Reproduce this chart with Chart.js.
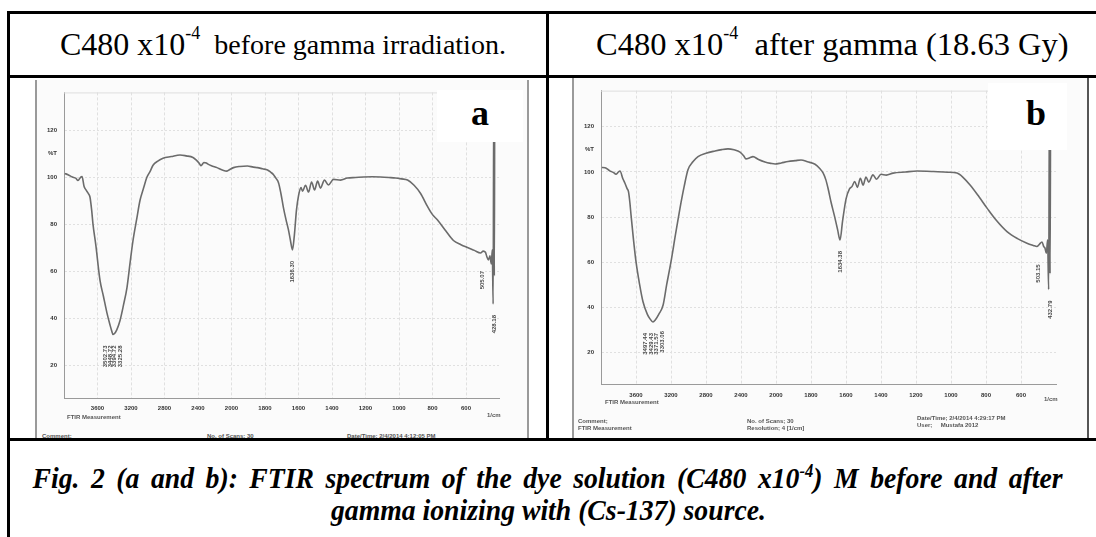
<!DOCTYPE html>
<html>
<head>
<meta charset="utf-8">
<script src="https://cdn.jsdelivr.net/npm/chart.js@4.4.0/dist/chart.umd.min.js"></script>
<style>
body{margin:0;width:1096px;height:537px;overflow:hidden;background:#fff;position:relative;font-family:"Liberation Serif","Times New Roman",serif;color:#000;}
.ln{position:absolute;background:#000;}
.hd{position:absolute;top:14px;height:61px;display:flex;align-items:center;white-space:nowrap;}
.hd sup{font-size:18px;vertical-align:0;position:relative;top:-11px;}
.frame{position:absolute;background:#fbfbfb;border-left:2px solid #9a9a9a;border-right:2px solid #9a9a9a;box-sizing:border-box;overflow:hidden;}
.cv{position:absolute;}
.box{position:absolute;background:#fff;}
.lab{position:absolute;font-weight:bold;font-size:36px;line-height:36px;}
.sm{position:absolute;font-family:"Liberation Sans",Arial,sans-serif;font-size:6px;line-height:7px;font-weight:bold;color:#555;white-space:nowrap;}
.cap{position:absolute;left:-1000px;width:3096px;text-align:center;font-weight:bold;font-style:italic;font-size:30px;line-height:32px;white-space:nowrap;}
.capin{display:inline-block;transform-origin:center;}
.cap sup{font-size:18px;vertical-align:0;position:relative;top:-11px;}
</style>
</head>
<body>

<!-- table lines -->
<div class="ln" style="left:7px;top:11px;width:1200px;height:3px"></div>
<div class="ln" style="left:7px;top:75px;width:1200px;height:3px"></div>
<div class="ln" style="left:7px;top:438px;width:1200px;height:3px"></div>
<div class="ln" style="left:7px;top:11px;width:3px;height:600px"></div>
<div class="ln" style="left:546px;top:11px;width:3px;height:430px"></div>

<div class="hd" style="left:60px"><span style="font-size:32px">C480 x10</span><sup>-4</sup><span style="font-size:28px">&nbsp; before gamma irradiation.</span></div>
<div class="hd" style="left:596px"><span style="font-size:32.5px">C480 x10</span><sup>-4</sup><span style="font-size:32.5px">&nbsp; after gamma (18.63 Gy)</span></div>

<!-- picture a -->
<div class="frame" style="left:35px;top:80px;width:494px;height:358px">
  <div class="sm" style="left:5px;top:353px">Comment;</div>
  <div class="sm" style="left:170px;top:353px">No. of Scans; 30</div>
  <div class="sm" style="left:310px;top:353px">Date/Time; 2/4/2014 4:12:05 PM</div>
</div>
<div class="cv" style="left:35px;top:80px;width:492px;height:357px"><canvas id="chartA"></canvas></div>
<div class="sm" style="left:67px;top:414px">FTIR Measurement</div>
<div class="sm" style="left:487px;top:412px">1/cm</div>
<div class="box" style="left:437px;top:90px;width:86px;height:52px"></div>
<div class="lab" style="left:471px;top:95px">a</div>

<!-- picture b -->
<div class="frame" style="left:572px;top:78px;width:517px;height:360px;border-right-color:#555">
  <div class="sm" style="left:4px;top:340px">Comment;<br>FTIR Measurement</div>
  <div class="sm" style="left:173px;top:340px">No. of Scans; 30<br>Resolution; 4 [1/cm]</div>
  <div class="sm" style="left:343px;top:337px">Date/Time; 2/4/2014 4:29:17 PM<br>User;&nbsp;&nbsp;&nbsp;&nbsp; Mustafa 2012</div>
</div>
<div class="cv" style="left:572px;top:78px;width:515px;height:359px"><canvas id="chartB"></canvas></div>
<div class="sm" style="left:605px;top:399px">FTIR Measurement</div>
<div class="sm" style="left:1044px;top:396px">1/cm</div>
<div class="box" style="left:988px;top:83px;width:79px;height:67px"></div>
<div class="lab" style="left:1026px;top:95px">b</div>

<div class="cap" style="top:462px"><span class="capin" id="cap1">Fig. 2 (a and b): FTIR spectrum of the dye solution (C480 x10<sup>-4</sup>) M before and after</span></div>
<div class="cap" style="top:494px"><span class="capin" id="cap2">gamma ionizing with (Cs-137) source.</span></div>

<script>

// wavenumber (1/cm) and %T
const wnA = [3990,3952,3900,3860,3833,3800,3785,3760,3737,3710,3690,3670,3654,3620,3570,3530,3486,3450,3430,3415,3400,3370,3331,3290,3248,3210,3176,3130,3093,3050,3009,2970,2937,2880,2818,2720,2615,2540,2460,2420,2388,2365,2352,2330,2300,2281,2240,2173,2110,2054,2020,1988,1950,1905,1870,1845,1815,1785,1765,1749,1735,1719,1705,1690,1675,1660,1648,1636,1625,1612,1600,1585,1576,1558,1540,1522,1504,1486,1469,1445,1421,1391,1349,1308,1260,1212,1160,1110,1060,1021,985,949,910,871,830,800,770,720,675,630,591,550,513,497,484,475,466,457,449,443,438,434,431,428,424,420];
const tA = [101.5,101,100,99.5,98.5,100,100.2,96,94.5,93,91.5,86,80,71,56,49.4,42,37,34.5,33,33.3,35,39,45.5,53,63.8,73,82.5,90,95.3,100,102.5,105,106.8,108,108.7,109.4,109,108.3,107.2,106,104.8,105.2,106.2,106,105.5,104.8,104,103,102.5,103.2,104,104.5,104.7,104.2,104,103.5,103,102,101,99.5,97.5,93,87,82,77.5,73,69,75,86,92,95.5,94,96.5,93.6,97.9,94.5,98.3,95.3,98.7,96.6,99,98.7,99.6,99.8,100,100.1,100,99.8,99.6,99.2,98.7,96.5,93,87.5,84,81.7,77,73,71.2,70,68.8,67.7,68.5,68,66,64.7,66.5,63,69,46,140,58,140,140,140];

const wnB = [3990,3954,3900,3860,3829,3800,3783,3750,3726,3700,3686,3670,3657,3630,3600,3560,3520,3470,3440,3406,3380,3340,3291,3250,3200,3150,3097,3050,3006,2950,2891,2800,2697,2620,2549,2480,2411,2370,2343,2300,2263,2200,2126,2060,2011,1970,1931,1890,1857,1820,1777,1750,1731,1715,1703,1685,1663,1648,1634,1620,1600,1580,1566,1550,1535,1518,1502,1486,1470,1446,1425,1400,1370,1331,1260,1194,1100,1020,966,930,891,840,794,740,680,620,566,530,509,495,480,470,463,455,448,442,437,434,430,427,422];
const tB = [102,101.9,100.5,99.8,99,100,100.4,97,95,92.5,91.3,86.5,81,70.5,60.3,50.5,42.6,37,35,33.6,34.5,37,41,50,60.3,72,84,93.5,101,104.5,106.8,108.3,109.3,109.9,110.2,109.8,108.8,107.2,105.8,106.3,106.8,105.5,104.4,103.8,103.5,104,104.6,105,105.3,104.5,103.4,101.5,99.6,96.5,92.9,86.5,79.6,74.5,69.9,78,88,92.5,93.5,95.8,93.2,97.2,94.2,97.8,95.5,98.7,96.8,99,98.6,99.5,100,100.4,100.2,99.9,99.5,97.5,94.2,89,84,78.5,73.6,70.5,68.5,67.5,67,68,69,67,66.3,64,70,48,140,55,140,140,140];

// peak labels printed under the bands
const peaksA = [3502.73,3448.72,3394.72,3325.28,1636.30,505.07,428.18];
const peaksB = [3497.44,3429.43,3371.57,3303.06,1634.38,503.15,432.79];

const xTicks = [3600,3200,2800,2400,2000,1800,1600,1400,1200,1000,800,600];
const yTicks = [20,40,60,80,100,110,120];

// instrument axis: 4000-2000 drawn at half scale, 2000-400 at full scale
function wnPos(w){ return w >= 2000 ? (4000 - w) / 2 : 1000 + (2000 - w); }
function posWn(p){ return p <= 1000 ? 4000 - 2 * p : 2000 - (p - 1000); }

class FtirScale extends Chart.LinearScale {
  static id = 'ftir';
  static defaults = {};
  determineDataLimits(){ this.min = 400; this.max = 4000; }
  buildTicks(){ return xTicks.map(v => ({value: v})); }
  getPixelForValue(v){ return this.left + this.width * wnPos(v) / 2600; }
  getValueForPixel(px){ return posWn((px - this.left) / this.width * 2600); }
}
Chart.register(FtirScale);

const peakPlugin = {
  id: 'peaks',
  afterDatasetsDraw(chart, args, opts){
    const ctx = chart.ctx;
    const x = chart.scales.x;
    const pts = chart.getDatasetMeta(0).data;
    ctx.save();
    ctx.font = 'bold 6px "Liberation Sans", Arial';
    ctx.fillStyle = '#4a4a4a';
    ctx.textAlign = 'right';
    ctx.textBaseline = 'middle';
    opts.list.forEach(wn => {
      const px = x.getPixelForValue(wn);
      let low = -Infinity;
      pts.forEach(p => { if (Math.abs(p.x - px) <= 9) low = Math.max(low, p.y); });
      ctx.save();
      ctx.translate(px, low + 11);
      ctx.rotate(-Math.PI / 2);
      ctx.fillText(wn.toFixed(2), 0, 0);
      ctx.restore();
    });
    ctx.restore();
  }
};

const topLine = {
  id: 'topLine',
  beforeDatasetsDraw(chart){
    const a = chart.chartArea, ctx = chart.ctx;
    ctx.save();
    ctx.strokeStyle = '#dedede';
    ctx.beginPath();
    ctx.moveTo(a.left, a.top + 0.5);
    ctx.lineTo(a.right, a.top + 0.5);
    ctx.stroke();
    ctx.restore();
  }
};

const tickFont = {size: 6, weight: 'bold', family: '"Liberation Sans", Arial'};

function makeChart(id, wn, t, peaks, padTop, padRight, axisH){
  new Chart(document.getElementById(id), {
    type: 'line',
    data: {
      datasets: [{
        data: wn.map((w, i) => ({x: w, y: t[i]})),
        borderColor: '#6b6b6b',
        borderWidth: 1.6,
        pointRadius: 0,
        cubicInterpolationMode: 'monotone'
      }]
    },
    options: {
      responsive: true,
      maintainAspectRatio: false,
      animation: false,
      events: [],
      layout: {padding: {left: 0, top: padTop, right: padRight, bottom: 0}},
      scales: {
        x: {
          type: 'ftir',
          afterFit: s => { s.height = axisH; },
          grid: {color: '#e0e0e0', drawTicks: false},
          border: {display: true, dash: [3, 2], color: '#9a9a9a'},
          ticks: {autoSkip: false, maxRotation: 0, padding: 7, font: tickFont, color: '#333', callback: v => String(v)}
        },
        y: {
          type: 'linear',
          min: 6,
          max: 136,
          afterBuildTicks: s => { s.ticks = yTicks.map(v => ({value: v})); },
          afterFit: s => { s.width = 29; },
          grid: {color: c => (c.tick && c.tick.value === 110) ? 'rgba(0,0,0,0)' : '#e0e0e0', drawTicks: false},
          border: {display: true, dash: [2, 2], color: '#9a9a9a'},
          ticks: {padding: 7, font: tickFont, color: '#333', callback: v => v === 110 ? '%T' : String(v)}
        }
      },
      plugins: {legend: {display: false}, tooltip: {enabled: false}, peaks: {list: peaks}}
    },
    plugins: [topLine, peakPlugin]
  });
}

makeChart('chartA', wnA, tA, peaksA, 12.4, 27.5, 39);
makeChart('chartB', wnB, tB, peaksB, 12.6, 31, 52.6);

// caption: condensed print, first line justified to the cell width
const cap1 = document.getElementById('cap1');
const cap2 = document.getElementById('cap2');
const sx = 435 / cap2.getBoundingClientRect().width;
const gaps = cap1.textContent.split(' ').length - 1;
const extra = (1030 / sx - cap1.getBoundingClientRect().width) / gaps;
cap1.style.wordSpacing = Math.max(0, extra) + 'px';
[cap1, cap2].forEach(el => { el.style.transform = 'scaleX(' + sx + ')'; });

</script>
</body>
</html>
